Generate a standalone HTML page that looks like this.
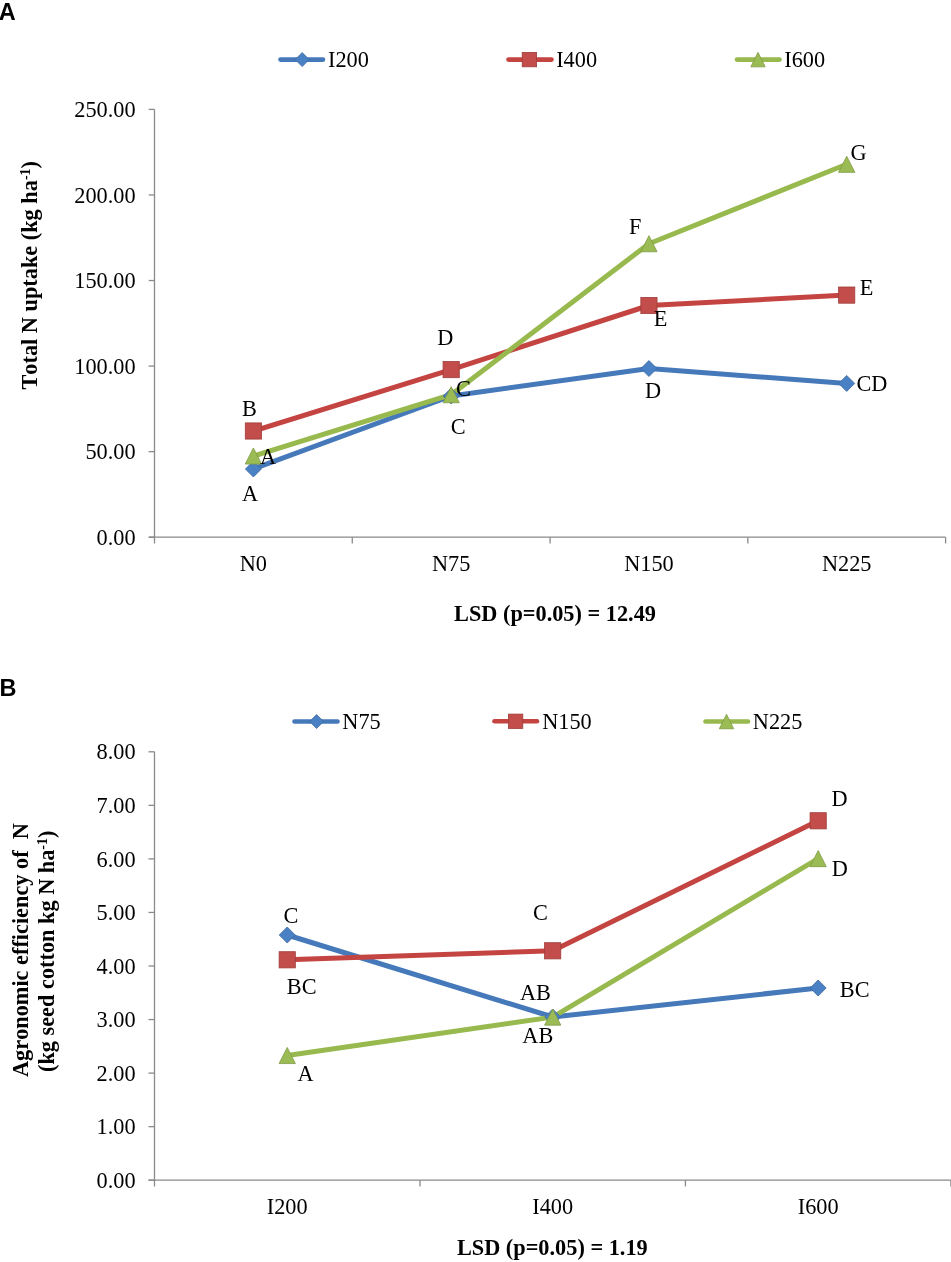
<!DOCTYPE html>
<html><head><meta charset="utf-8"><title>Chart</title>
<style>html,body{margin:0;padding:0;background:#fff;}svg{display:block;will-change:transform;}text{fill:#000;font-kerning:none;font-variant-ligatures:none;}</style>
</head><body><svg width="951" height="1262" viewBox="0 0 951 1262"><text x="-1.2" y="19.8" font-family="'Liberation Sans', sans-serif" font-size="23.5" font-weight="bold" text-anchor="start" >A</text><line x1="280.5" y1="59.6" x2="323" y2="59.6" stroke="#4579BA" stroke-width="4.6" stroke-linecap="round"/><path d="M302.2 52.6L309.2 59.6L302.2 66.6L295.2 59.6Z" fill="#4A80C4" stroke="#3D68A0" stroke-width="0.8"/><text x="328" y="67.1" font-family="'Liberation Serif', serif" font-size="22.3" font-weight="normal" text-anchor="start" >I200</text><line x1="508.5" y1="59.6" x2="551.5" y2="59.6" stroke="#C44441" stroke-width="4.6" stroke-linecap="round"/><rect x="522.20" y="52.40" width="14.4" height="14.4" fill="#C24D4A" stroke="#9E3E3B" stroke-width="0.8"/><text x="556.2" y="67.1" font-family="'Liberation Serif', serif" font-size="22.3" font-weight="normal" text-anchor="start" >I400</text><line x1="737" y1="59.6" x2="779.5" y2="59.6" stroke="#97B94E" stroke-width="4.6" stroke-linecap="round"/><path d="M758 52.35L765.20 66.85L750.80 66.85Z" fill="#9BBB55" stroke="#7F9B45" stroke-width="0.8" stroke-linejoin="round"/><text x="784.3" y="67.1" font-family="'Liberation Serif', serif" font-size="22.3" font-weight="normal" text-anchor="start" >I600</text><path d="M154.5 109.4V543.4000000000001" stroke="#8A8A8A" stroke-width="1.3" fill="none"/><path d="M148.7 537.2H945.6" stroke="#8A8A8A" stroke-width="1.3" fill="none"/><path d="M148.7 537.20H154.5" stroke="#8A8A8A" stroke-width="1.3"/><text x="135.6" y="544.8000000000001" font-family="'Liberation Serif', serif" font-size="22.3" font-weight="normal" text-anchor="end" >0.00</text><path d="M148.7 451.64H154.5" stroke="#8A8A8A" stroke-width="1.3"/><text x="135.6" y="459.24000000000007" font-family="'Liberation Serif', serif" font-size="22.3" font-weight="normal" text-anchor="end" >50.00</text><path d="M148.7 366.08H154.5" stroke="#8A8A8A" stroke-width="1.3"/><text x="135.6" y="373.68000000000006" font-family="'Liberation Serif', serif" font-size="22.3" font-weight="normal" text-anchor="end" >100.00</text><path d="M148.7 280.52H154.5" stroke="#8A8A8A" stroke-width="1.3"/><text x="135.6" y="288.12000000000006" font-family="'Liberation Serif', serif" font-size="22.3" font-weight="normal" text-anchor="end" >150.00</text><path d="M148.7 194.96H154.5" stroke="#8A8A8A" stroke-width="1.3"/><text x="135.6" y="202.55999999999997" font-family="'Liberation Serif', serif" font-size="22.3" font-weight="normal" text-anchor="end" >200.00</text><path d="M148.7 109.40H154.5" stroke="#8A8A8A" stroke-width="1.3"/><text x="135.6" y="116.99999999999997" font-family="'Liberation Serif', serif" font-size="22.3" font-weight="normal" text-anchor="end" >250.00</text><path d="M352.27 537.2V543.4000000000001" stroke="#8A8A8A" stroke-width="1.3"/><path d="M550.05 537.2V543.4000000000001" stroke="#8A8A8A" stroke-width="1.3"/><path d="M747.83 537.2V543.4000000000001" stroke="#8A8A8A" stroke-width="1.3"/><path d="M945.60 537.2V543.4000000000001" stroke="#8A8A8A" stroke-width="1.3"/><text x="253.39" y="571" font-family="'Liberation Serif', serif" font-size="22.3" font-weight="normal" text-anchor="middle" >N0</text><text x="451.16" y="571" font-family="'Liberation Serif', serif" font-size="22.3" font-weight="normal" text-anchor="middle" >N75</text><text x="648.94" y="571" font-family="'Liberation Serif', serif" font-size="22.3" font-weight="normal" text-anchor="middle" >N150</text><text x="846.71" y="571" font-family="'Liberation Serif', serif" font-size="22.3" font-weight="normal" text-anchor="middle" >N225</text><text x="555" y="620.8" font-family="'Liberation Serif', serif" font-size="22.3" font-weight="bold" text-anchor="middle" >LSD (p=0.05) = 12.49</text><text transform="translate(37,389.5) rotate(-90)" font-family="'Liberation Serif', serif" font-size="22.3" font-weight="bold">Total N uptake (kg ha<tspan font-size="14" dy="-7">-1</tspan><tspan dy="7">)</tspan></text><polyline points="253.3875,469 451.1625,396 648.9375,368.5 846.7125,383.4" fill="none" stroke="#4579BA" stroke-width="5" stroke-linejoin="round" stroke-linecap="round"/><polyline points="253.3875,431.0 451.1625,369.6 648.9375,305.5 846.7125,295.1" fill="none" stroke="#C44441" stroke-width="5" stroke-linejoin="round" stroke-linecap="round"/><polyline points="253.3875,456.0 451.1625,394.7 648.9375,243.7 846.7125,164.3" fill="none" stroke="#97B94E" stroke-width="5" stroke-linejoin="round" stroke-linecap="round"/><path d="M253.39 461.0L261.39 469L253.39 477.0L245.39 469Z" fill="#4A80C4" stroke="#3D68A0" stroke-width="0.8"/><path d="M451.16 388.0L459.16 396L451.16 404.0L443.16 396Z" fill="#4A80C4" stroke="#3D68A0" stroke-width="0.8"/><path d="M648.94 360.5L656.94 368.5L648.94 376.5L640.94 368.5Z" fill="#4A80C4" stroke="#3D68A0" stroke-width="0.8"/><path d="M846.71 375.4L854.71 383.4L846.71 391.4L838.71 383.4Z" fill="#4A80C4" stroke="#3D68A0" stroke-width="0.8"/><rect x="245.29" y="422.90" width="16.2" height="16.2" fill="#C24D4A" stroke="#9E3E3B" stroke-width="0.8"/><rect x="443.06" y="361.50" width="16.2" height="16.2" fill="#C24D4A" stroke="#9E3E3B" stroke-width="0.8"/><rect x="640.84" y="297.40" width="16.2" height="16.2" fill="#C24D4A" stroke="#9E3E3B" stroke-width="0.8"/><rect x="838.61" y="287.00" width="16.2" height="16.2" fill="#C24D4A" stroke="#9E3E3B" stroke-width="0.8"/><path d="M253.39 447.95L261.54 464.05L245.24 464.05Z" fill="#9BBB55" stroke="#7F9B45" stroke-width="0.8" stroke-linejoin="round"/><path d="M451.16 386.65L459.31 402.75L443.01 402.75Z" fill="#9BBB55" stroke="#7F9B45" stroke-width="0.8" stroke-linejoin="round"/><path d="M648.94 235.65L657.09 251.75L640.79 251.75Z" fill="#9BBB55" stroke="#7F9B45" stroke-width="0.8" stroke-linejoin="round"/><path d="M846.71 156.25L854.86 172.35L838.56 172.35Z" fill="#9BBB55" stroke="#7F9B45" stroke-width="0.8" stroke-linejoin="round"/><text x="242.1" y="415.7" font-family="'Liberation Serif', serif" font-size="22.3" font-weight="normal" text-anchor="start" >B</text><text x="260" y="463.7" font-family="'Liberation Serif', serif" font-size="22.3" font-weight="normal" text-anchor="start" >A</text><text x="242.1" y="500.8" font-family="'Liberation Serif', serif" font-size="22.3" font-weight="normal" text-anchor="start" >A</text><text x="437.3" y="345.2" font-family="'Liberation Serif', serif" font-size="22.3" font-weight="normal" text-anchor="start" >D</text><text x="456" y="396.4" font-family="'Liberation Serif', serif" font-size="22.3" font-weight="normal" text-anchor="start" >C</text><text x="450.8" y="433.5" font-family="'Liberation Serif', serif" font-size="22.3" font-weight="normal" text-anchor="start" >C</text><text x="629" y="234.1" font-family="'Liberation Serif', serif" font-size="22.3" font-weight="normal" text-anchor="start" >F</text><text x="653.7" y="325.7" font-family="'Liberation Serif', serif" font-size="22.3" font-weight="normal" text-anchor="start" >E</text><text x="644.9" y="397.8" font-family="'Liberation Serif', serif" font-size="22.3" font-weight="normal" text-anchor="start" >D</text><text x="850.5" y="160.4" font-family="'Liberation Serif', serif" font-size="22.3" font-weight="normal" text-anchor="start" >G</text><text x="859.7" y="294.9" font-family="'Liberation Serif', serif" font-size="22.3" font-weight="normal" text-anchor="start" >E</text><text x="856.4" y="391.4" font-family="'Liberation Serif', serif" font-size="22.3" font-weight="normal" text-anchor="start" >CD</text><text x="-0.4" y="695.8" font-family="'Liberation Sans', sans-serif" font-size="23.5" font-weight="bold" text-anchor="start" >B</text><line x1="294.5" y1="721.5" x2="337.5" y2="721.5" stroke="#4579BA" stroke-width="4.6" stroke-linecap="round"/><path d="M316.6 714.5L323.6 721.5L316.6 728.5L309.6 721.5Z" fill="#4A80C4" stroke="#3D68A0" stroke-width="0.8"/><text x="342.3" y="729.0" font-family="'Liberation Serif', serif" font-size="22.3" font-weight="normal" text-anchor="start" >N75</text><line x1="494.5" y1="721.3" x2="537" y2="721.3" stroke="#C44441" stroke-width="4.6" stroke-linecap="round"/><rect x="508.40" y="714.10" width="14.4" height="14.4" fill="#C24D4A" stroke="#9E3E3B" stroke-width="0.8"/><text x="542.2" y="728.8" font-family="'Liberation Serif', serif" font-size="22.3" font-weight="normal" text-anchor="start" >N150</text><line x1="705.5" y1="721.5" x2="748" y2="721.5" stroke="#97B94E" stroke-width="4.6" stroke-linecap="round"/><path d="M726.5 714.25L733.70 728.75L719.30 728.75Z" fill="#9BBB55" stroke="#7F9B45" stroke-width="0.8" stroke-linejoin="round"/><text x="752.8" y="729.0" font-family="'Liberation Serif', serif" font-size="22.3" font-weight="normal" text-anchor="start" >N225</text><path d="M154.5 751.8V1186.4" stroke="#8A8A8A" stroke-width="1.3" fill="none"/><path d="M148.5 1180.2H950.9" stroke="#8A8A8A" stroke-width="1.3" fill="none"/><path d="M148.5 1180.20H154.5" stroke="#8A8A8A" stroke-width="1.3"/><text x="135.6" y="1187.8" font-family="'Liberation Serif', serif" font-size="22.3" font-weight="normal" text-anchor="end" >0.00</text><path d="M148.5 1126.65H154.5" stroke="#8A8A8A" stroke-width="1.3"/><text x="135.6" y="1134.25" font-family="'Liberation Serif', serif" font-size="22.3" font-weight="normal" text-anchor="end" >1.00</text><path d="M148.5 1073.10H154.5" stroke="#8A8A8A" stroke-width="1.3"/><text x="135.6" y="1080.6999999999998" font-family="'Liberation Serif', serif" font-size="22.3" font-weight="normal" text-anchor="end" >2.00</text><path d="M148.5 1019.55H154.5" stroke="#8A8A8A" stroke-width="1.3"/><text x="135.6" y="1027.1499999999999" font-family="'Liberation Serif', serif" font-size="22.3" font-weight="normal" text-anchor="end" >3.00</text><path d="M148.5 966.00H154.5" stroke="#8A8A8A" stroke-width="1.3"/><text x="135.6" y="973.6" font-family="'Liberation Serif', serif" font-size="22.3" font-weight="normal" text-anchor="end" >4.00</text><path d="M148.5 912.45H154.5" stroke="#8A8A8A" stroke-width="1.3"/><text x="135.6" y="920.0500000000001" font-family="'Liberation Serif', serif" font-size="22.3" font-weight="normal" text-anchor="end" >5.00</text><path d="M148.5 858.90H154.5" stroke="#8A8A8A" stroke-width="1.3"/><text x="135.6" y="866.5" font-family="'Liberation Serif', serif" font-size="22.3" font-weight="normal" text-anchor="end" >6.00</text><path d="M148.5 805.35H154.5" stroke="#8A8A8A" stroke-width="1.3"/><text x="135.6" y="812.9499999999999" font-family="'Liberation Serif', serif" font-size="22.3" font-weight="normal" text-anchor="end" >7.00</text><path d="M148.5 751.80H154.5" stroke="#8A8A8A" stroke-width="1.3"/><text x="135.6" y="759.4" font-family="'Liberation Serif', serif" font-size="22.3" font-weight="normal" text-anchor="end" >8.00</text><path d="M419.97 1180.2V1186.4" stroke="#8A8A8A" stroke-width="1.3"/><path d="M685.43 1180.2V1186.4" stroke="#8A8A8A" stroke-width="1.3"/><path d="M950.90 1180.2V1186.4" stroke="#8A8A8A" stroke-width="1.3"/><text x="287.23" y="1213.6" font-family="'Liberation Serif', serif" font-size="22.3" font-weight="normal" text-anchor="middle" >I200</text><text x="552.70" y="1213.6" font-family="'Liberation Serif', serif" font-size="22.3" font-weight="normal" text-anchor="middle" >I400</text><text x="818.17" y="1213.6" font-family="'Liberation Serif', serif" font-size="22.3" font-weight="normal" text-anchor="middle" >I600</text><text x="552.3" y="1254.7" font-family="'Liberation Serif', serif" font-size="22.3" font-weight="bold" text-anchor="middle" >LSD (p=0.05) = 1.19</text><text transform="translate(28,1077) rotate(-90)" font-family="'Liberation Serif', serif" font-size="22.3" font-weight="bold" xml:space="preserve">Agronomic efficiency of  N</text><text transform="translate(54,1072) rotate(-90)" font-family="'Liberation Serif', serif" font-size="22.3" font-weight="bold">(kg seed cotton kg N ha<tspan font-size="14" dy="-7">-1</tspan><tspan dy="7">)</tspan></text><polyline points="287.23333333333335,935.0 552.6999999999999,1017.0 818.1666666666666,988.0" fill="none" stroke="#4579BA" stroke-width="5" stroke-linejoin="round" stroke-linecap="round"/><polyline points="287.23333333333335,959.8 552.6999999999999,950.8 818.1666666666666,820.8" fill="none" stroke="#C44441" stroke-width="5" stroke-linejoin="round" stroke-linecap="round"/><polyline points="287.23333333333335,1055.5 552.6999999999999,1017.1 818.1666666666666,858.6" fill="none" stroke="#97B94E" stroke-width="5" stroke-linejoin="round" stroke-linecap="round"/><path d="M287.23 927.0L295.23 935.0L287.23 943.0L279.23 935.0Z" fill="#4A80C4" stroke="#3D68A0" stroke-width="0.8"/><path d="M552.7 1009.0L560.7 1017.0L552.7 1025.0L544.7 1017.0Z" fill="#4A80C4" stroke="#3D68A0" stroke-width="0.8"/><path d="M818.17 980.0L826.17 988.0L818.17 996.0L810.17 988.0Z" fill="#4A80C4" stroke="#3D68A0" stroke-width="0.8"/><rect x="279.13" y="951.70" width="16.2" height="16.2" fill="#C24D4A" stroke="#9E3E3B" stroke-width="0.8"/><rect x="544.60" y="942.70" width="16.2" height="16.2" fill="#C24D4A" stroke="#9E3E3B" stroke-width="0.8"/><rect x="810.07" y="812.70" width="16.2" height="16.2" fill="#C24D4A" stroke="#9E3E3B" stroke-width="0.8"/><path d="M287.23 1047.45L295.38 1063.55L279.08 1063.55Z" fill="#9BBB55" stroke="#7F9B45" stroke-width="0.8" stroke-linejoin="round"/><path d="M552.7 1009.05L560.85 1025.15L544.55 1025.15Z" fill="#9BBB55" stroke="#7F9B45" stroke-width="0.8" stroke-linejoin="round"/><path d="M818.17 850.55L826.32 866.65L810.02 866.65Z" fill="#9BBB55" stroke="#7F9B45" stroke-width="0.8" stroke-linejoin="round"/><text x="283.4" y="923.1" font-family="'Liberation Serif', serif" font-size="22.3" font-weight="normal" text-anchor="start" >C</text><text x="286.8" y="993.8" font-family="'Liberation Serif', serif" font-size="22.3" font-weight="normal" text-anchor="start" >BC</text><text x="297.6" y="1081" font-family="'Liberation Serif', serif" font-size="22.3" font-weight="normal" text-anchor="start" >A</text><text x="533.1" y="919.7" font-family="'Liberation Serif', serif" font-size="22.3" font-weight="normal" text-anchor="start" >C</text><text x="519.9" y="999.8" font-family="'Liberation Serif', serif" font-size="22.3" font-weight="normal" text-anchor="start" >AB</text><text x="522.3" y="1043" font-family="'Liberation Serif', serif" font-size="22.3" font-weight="normal" text-anchor="start" >AB</text><text x="831.6" y="806.4" font-family="'Liberation Serif', serif" font-size="22.3" font-weight="normal" text-anchor="start" >D</text><text x="831.7" y="875.6" font-family="'Liberation Serif', serif" font-size="22.3" font-weight="normal" text-anchor="start" >D</text><text x="839.8" y="996.8" font-family="'Liberation Serif', serif" font-size="22.3" font-weight="normal" text-anchor="start" >BC</text></svg></body></html>
